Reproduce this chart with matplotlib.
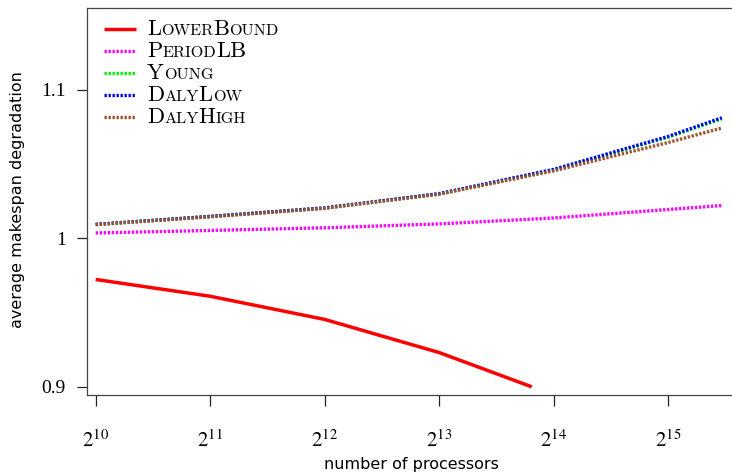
import matplotlib
matplotlib.use('Agg')
from matplotlib import pyplot as plt
from matplotlib.lines import Line2D
from matplotlib.offsetbox import AnchoredOffsetbox, DrawingArea, HPacker, VPacker, TextArea

plt.rcParams['mathtext.fontset'] = 'stix'

# processor counts (last sample ~2^15.47)
procs = [1024, 2048, 4096, 8192, 16384, 32768, 45400]
procs_lb = [1024, 2048, 4096, 8192, 14360]

lower_bound = [0.9724, 0.9611, 0.9455, 0.9232, 0.9001]
period_lb = [1.0037, 1.0054, 1.0072, 1.0098, 1.0138, 1.0195, 1.0222]
young = [1.0094, 1.0148, 1.0205, 1.0300, 1.0462, 1.0682, 1.0806]
daly_low = [1.0095, 1.0149, 1.0206, 1.0302, 1.0465, 1.0687, 1.0813]
daly_high = [1.0093, 1.0146, 1.0203, 1.0298, 1.0455, 1.0646, 1.0744]

xtick_exps = [10, 11, 12, 13, 14, 15]
yticks = [0.9, 1.0, 1.1]
ytick_labels = ['0.9', '1', '1.1']

dots = (0, (0.7, 0.5))
series = [
    ('LowerBound', procs_lb, lower_bound, dict(color='#ff0000', linestyle='-', linewidth=2.5)),
    ('PeriodLB', procs, period_lb, dict(color='#ff00ff', linestyle=dots, linewidth=2.4)),
    ('Young', procs, young, dict(color='#00ee00', linestyle=dots, linewidth=2.4)),
    ('DalyLow', procs, daly_low, dict(color='#0000ff', linestyle=dots, linewidth=2.4)),
    ('DalyHigh', procs, daly_high, dict(color='#a0522d', linestyle=dots, linewidth=2.4)),
]

fig = plt.figure(figsize=(7.32, 4.74), dpi=100)
W, H = 732, 474
left, right, top, bottom = 87, 745, 8, 395
ax = fig.add_axes([left / W, 1 - bottom / H, (right - left) / W, (bottom - top) / H])

for name, x, y, kw in series:
    ax.plot(x, y, solid_capstyle='butt', dash_capstyle='butt', **kw)

ax.set_xscale('log', base=2)
ax.set_xlim(2 ** 9.924, 2 ** (10 + (right - 95.7) / 114.46))
ax.set_ylim(0.8946, 1.1552)

ax.set_xticks([2 ** e for e in xtick_exps])
ax.set_xticklabels([r'$2^{%d}$' % e for e in xtick_exps], fontsize=15)
ax.xaxis.set_minor_locator(matplotlib.ticker.NullLocator())
ax.set_yticks(yticks)
ax.set_yticklabels(ytick_labels, fontsize=14, family='Liberation Serif')

ax.tick_params(axis='x', direction='out', length=8, width=0.9, pad=17, color='#222222')
ax.tick_params(axis='y', direction='out', length=7.2, width=0.9, pad=8, color='#222222')

for s in ['left', 'bottom', 'top']:
    ax.spines[s].set_color('#444444')
    ax.spines[s].set_linewidth(0.9)
ax.spines['right'].set_visible(False)

fig.text(411 / W, 1 - 465 / H, 'number of processors', ha='center', va='center',
         fontsize=11.5, family='DejaVu Sans')
fig.text(18 / W, 1 - 200 / H, 'average makespan degradation', ha='center', va='center',
         rotation=90, fontsize=11.5, family='DejaVu Sans')


# legend with fake small caps
def small_caps(label, big=16.2, small=11.7):
    parts = []
    run = ''
    run_upper = None
    for ch in label:
        up = ch.isupper()
        if run and up != run_upper:
            parts.append((run, run_upper))
            run = ''
        run += ch
        run_upper = up
    parts.append((run, run_upper))
    boxes = []
    for txt, up in parts:
        size = big if up else small
        boxes.append(TextArea(txt.upper(), textprops=dict(fontsize=size, family='cmr10')))
    return HPacker(children=boxes, align='baseline', pad=0, sep=0)


rows = []
for name, x, y, kw in series:
    da = DrawingArea(23, 10, 0, 0)
    da.add_artist(Line2D([0, 23], [5, 5], solid_capstyle='butt', dash_capstyle='butt', **kw))
    rows.append(HPacker(children=[da, small_caps(name)], align='center', pad=0, sep=8))

box = VPacker(children=rows, align='left', pad=0, sep=1.9)
anchored = AnchoredOffsetbox(loc='upper left', child=box, pad=0, borderpad=0, frameon=False,
                             bbox_to_anchor=((104 - left) / (right - left), 1 - 11 / (bottom - top)),
                             bbox_transform=ax.transAxes)
ax.add_artist(anchored)

fig.savefig('out.png', dpi=100)
